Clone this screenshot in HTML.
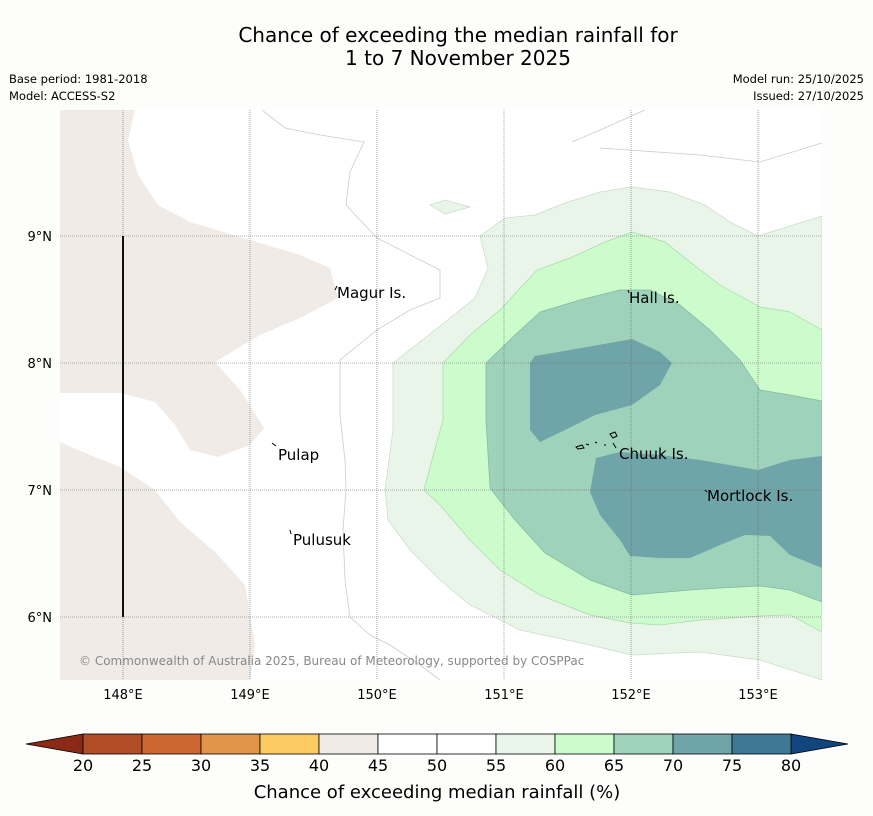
<!DOCTYPE html>
<html><head><meta charset="utf-8"><style>
body{margin:0;background:#fdfefb;width:873px;height:816px;overflow:hidden;font-family:"DejaVu Sans","Liberation Sans",sans-serif}
svg{display:block}
</style></head><body>
<svg width="873" height="816" font-family="DejaVu Sans, Liberation Sans, sans-serif">
<text x="458" y="42" font-size="20" text-anchor="middle">Chance of exceeding the median rainfall for</text>
<text x="458" y="65" font-size="20" text-anchor="middle">1 to 7 November 2025</text>
<text x="9" y="83" font-size="11.5">Base period: 1981-2018</text>
<text x="9" y="100" font-size="11.5">Model: ACCESS-S2</text>
<text x="864" y="83" font-size="11.5" text-anchor="end">Model run: 25/10/2025</text>
<text x="864" y="100" font-size="11.5" text-anchor="end">Issued: 27/10/2025</text>
<g>
<rect x="60" y="110" width="762" height="570" fill="#fff"/>
<clipPath id="c"><rect x="60" y="110" width="762" height="570"/></clipPath>
<g clip-path="url(#c)">
<polygon fill="#f0ebe6" points="60,110 135,110 128,140 138,175 158,205 190,222 250,240 300,255 330,268 338,298 300,318 260,335 215,362 240,390 264,428 250,445 218,457 190,450 175,425 155,402 120,393 60,393"/>
<polygon fill="#f0ebe6" points="60,442 90,455 120,467 155,490 180,522 215,552 245,585 255,645 250,680 60,680"/>
<polygon fill="#eaf5ea" stroke="#c8dcc8" stroke-width="0.7" points="480,236 505,218 535,215 565,203 600,192 632,187 670,192 705,205 730,222 758,236 790,226 822,216 822,680 760,660 700,652 632,655 590,645 520,630 470,605 440,580 410,550 388,520 385,490 393,430 393,363 435,330 475,298 488,268"/>
<polygon fill="#eaf5ea" stroke="#c8dcc8" stroke-width="0.7" points="430,205 445,200 470,207 445,214"/>
<polygon fill="#ccfccc" stroke="#a8d8a8" stroke-width="0.7" points="632,232 665,242 690,262 720,285 760,307 790,312 822,330 822,632 790,615 760,616 700,620 660,625 630,623 590,615 540,595 500,570 470,540 440,505 424,490 432,460 443,420 443,363 470,335 500,310 537,270 570,258 605,242"/>
<polygon fill="#9ed2bb" stroke="#80b8a0" stroke-width="0.7" points="540,312 580,300 620,290 650,290 680,305 710,330 740,360 760,390 790,395 822,401 822,602 790,590 760,586 720,588 690,590 632,595 590,580 545,553 515,520 490,488 486,420 486,363 515,335"/>
<polygon fill="#6fa5a8" points="535,356 570,350 632,339 660,352 672,363 660,385 632,405 595,415 565,430 540,442 530,430 530,363"/>
<polygon fill="#6fa5a8" points="596,458 620,452 660,455 700,460 758,470 790,460 822,456 822,568 790,555 770,536 745,535 720,545 690,558 660,558 630,556 620,540 600,515 590,492"/>
<polyline fill="none" stroke="#ccc" stroke-width="0.8" points="262,110 285,128 320,135 364,142 350,172 346,205 377,238 440,270 440,298 410,310 377,330 340,360 340,415 345,460 346,490 343,530 345,580 350,617 370,635 390,645 420,665 440,680"/>
<polyline fill="none" stroke="#ccc" stroke-width="0.8" points="572,142 600,130 645,110"/>
<polyline fill="none" stroke="#ccc" stroke-width="0.8" points="600,148 700,155 760,162 822,143"/>
</g>
<g stroke="#666" stroke-width="0.6" stroke-dasharray="1,1">
<line x1="123" y1="110" x2="123" y2="680"/><line x1="250" y1="110" x2="250" y2="680"/><line x1="377" y1="110" x2="377" y2="680"/><line x1="504" y1="110" x2="504" y2="680"/><line x1="631" y1="110" x2="631" y2="680"/><line x1="758" y1="110" x2="758" y2="680"/>
<line x1="60" y1="236" x2="822" y2="236"/><line x1="60" y1="363" x2="822" y2="363"/><line x1="60" y1="490" x2="822" y2="490"/><line x1="60" y1="617" x2="822" y2="617"/>
</g>
<line x1="123" y1="236" x2="123" y2="617" stroke="#111" stroke-width="2"/>
<g font-size="13" fill="#000">
<text x="52" y="241" text-anchor="end">9°N</text>
<text x="52" y="368" text-anchor="end">8°N</text>
<text x="52" y="495" text-anchor="end">7°N</text>
<text x="52" y="622" text-anchor="end">6°N</text>
<text x="123" y="699" text-anchor="middle">148°E</text>
<text x="250" y="699" text-anchor="middle">149°E</text>
<text x="377" y="699" text-anchor="middle">150°E</text>
<text x="504" y="699" text-anchor="middle">151°E</text>
<text x="631" y="699" text-anchor="middle">152°E</text>
<text x="758" y="699" text-anchor="middle">153°E</text>
</g>
<g stroke="#000" stroke-width="1" fill="none">
<path d="M335,290 l2,-4"/><path d="M272,443 l4,3"/><path d="M290,530 l1,4"/><path d="M628,290 l1,3"/><path d="M705,490 l2,2"/>
<path d="M576,447 l6,-2 l2,3 l-6,1z"/><path d="M586,444 l3,1"/><path d="M595,442 l2,1"/><path d="M604,445 l2,0"/><path d="M610,434 l5,-2 l2,4 l-4,2z"/><path d="M613,443 l3,5"/>
</g>
<g font-size="15" fill="#000">
<text x="337" y="298">Magur Is.</text>
<text x="629" y="303">Hall Is.</text>
<text x="278" y="460">Pulap</text>
<text x="619" y="459">Chuuk Is.</text>
<text x="707" y="501">Mortlock Is.</text>
<text x="293" y="545">Pulusuk</text>
</g>
<text x="79" y="665" font-size="12" fill="#888">© Commonwealth of Australia 2025, Bureau of Meteorology, supported by COSPPac</text>
</g>
<g id="cbar"></g>
<text x="437" y="798" font-size="18" text-anchor="middle">Chance of exceeding median rainfall (%)</text>
<script>
const cbTicks=[20,25,30,35,40,45,50,55,60,65,70,75,80];
const cbColors=["#b14d26","#cd6631","#e1954a","#fdcb64","#f0ebe6","#ffffff","#ffffff","#eaf5ea","#ccfccc","#9ed2bb","#6fa5a8","#3f7895"];
const g=document.getElementById('cbar');
const ns='http://www.w3.org/2000/svg';
const x=v=>83+(v-20)*(791-83)/60;
function mk(t,a){const e=document.createElementNS(ns,t);for(const k in a)e.setAttribute(k,a[k]);g.appendChild(e);return e;}
let e=mk('polygon',{points:'26,744 83,734 83,754',fill:'#8b2a14',stroke:'#000','stroke-width':0.8});


e=mk('polygon',{points:'791,734 848,744 791,754',fill:'#10457d',stroke:'#000','stroke-width':0.8});


cbColors.forEach((c,i)=>{
 const r=mk('rect',{x:x(cbTicks[i]),y:734,width:x(cbTicks[i+1])-x(cbTicks[i]),height:20,fill:c,stroke:'#000','stroke-width':0.8});
 
 
});
cbTicks.forEach(v=>{
 const t=mk('text',{x:x(v),y:771,'font-size':16,'text-anchor':'middle'});
 t.textContent=v;
 
 
});
</script>
</svg>
</body></html>
